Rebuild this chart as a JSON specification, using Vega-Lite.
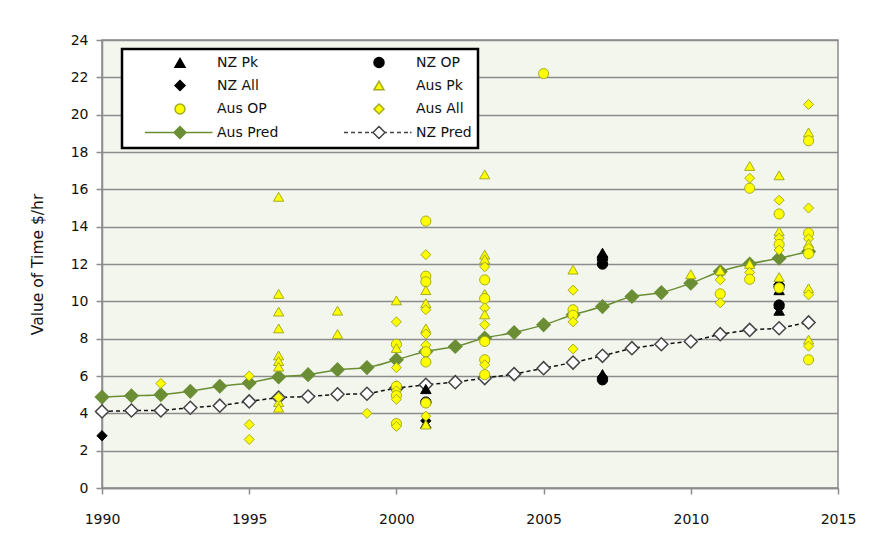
{
  "$schema": "https://vega.github.io/schema/vega-lite/v6.json",
  "width": 736,
  "height": 448,
  "autosize": {"type": "none"},
  "padding": {"left": 102, "top": 40, "right": 32, "bottom": 53},
  "background": "white",
  "config": {
    "view": {"fill": "#f3f6ed", "stroke": "#8c8c8c", "strokeWidth": 1.5},
    "font": "DejaVu Sans",
    "axis": {
      "labelFont": "DejaVu Sans", "labelFontSize": 14, "labelColor": "#111111",
      "titleFont": "DejaVu Sans", "titleFontSize": 15.5, "titleFontWeight": "normal", "titleColor": "#111111",
      "domainColor": "#8c8c8c", "tickColor": "#8c8c8c", "gridColor": "#8c8c8c",
      "domainWidth": 1.5, "tickWidth": 1.5, "gridWidth": 1.5, "tickSize": 6
    },
    "legend": {
      "orient": "none", "legendX": 20, "legendY": 9, "columns": 2, "direction": "horizontal", "title": null,
      "fillColor": "white", "strokeColor": "#000000", "strokeWidth": 2.5, "padding": 6,
      "labelFont": "DejaVu Sans", "labelFontSize": 14, "labelColor": "#111111",
      "labelOffset": 30, "symbolOffset": 45, "symbolSize": 100, "symbolStrokeWidth": 1.5,
      "rowPadding": 5.5, "columnPadding": 48, "gridAlign": "all"
    }
  },
  "datasets": {
    "obs": [
      {"year": 1990, "value": 2.8, "series": "NZ All"},
      {"year": 2001, "value": 5.3, "series": "NZ Pk"},
      {"year": 2001, "value": 3.45, "series": "NZ Pk"},
      {"year": 2001, "value": 4.6, "series": "NZ OP"},
      {"year": 2001, "value": 3.6, "series": "NZ All"},
      {"year": 2007, "value": 12.6, "series": "NZ Pk"},
      {"year": 2007, "value": 12.3, "series": "NZ OP"},
      {"year": 2007, "value": 12.0, "series": "NZ OP"},
      {"year": 2007, "value": 12.2, "series": "NZ All"},
      {"year": 2007, "value": 6.1, "series": "NZ Pk"},
      {"year": 2007, "value": 5.8, "series": "NZ OP"},
      {"year": 2007, "value": 5.95, "series": "NZ All"},
      {"year": 2013, "value": 10.6, "series": "NZ Pk"},
      {"year": 2013, "value": 10.8, "series": "NZ OP"},
      {"year": 2013, "value": 10.9, "series": "NZ All"},
      {"year": 2013, "value": 9.5, "series": "NZ Pk"},
      {"year": 2013, "value": 9.8, "series": "NZ OP"},
      {"year": 2013, "value": 9.65, "series": "NZ All"},
      {"year": 1992, "value": 5.6, "series": "Aus All"},
      {"year": 1995, "value": 6.0, "series": "Aus All"},
      {"year": 1995, "value": 3.4, "series": "Aus All"},
      {"year": 1995, "value": 2.6, "series": "Aus All"},
      {"year": 1996, "value": 15.6, "series": "Aus Pk"},
      {"year": 1996, "value": 10.4, "series": "Aus Pk"},
      {"year": 1996, "value": 9.45, "series": "Aus Pk"},
      {"year": 1996, "value": 8.55, "series": "Aus Pk"},
      {"year": 1996, "value": 7.1, "series": "Aus Pk"},
      {"year": 1996, "value": 6.8, "series": "Aus Pk"},
      {"year": 1996, "value": 6.5, "series": "Aus Pk"},
      {"year": 1996, "value": 4.6, "series": "Aus Pk"},
      {"year": 1996, "value": 4.3, "series": "Aus Pk"},
      {"year": 1996, "value": 4.85, "series": "Aus All"},
      {"year": 1998, "value": 9.5, "series": "Aus Pk"},
      {"year": 1998, "value": 8.25, "series": "Aus Pk"},
      {"year": 1999, "value": 4.0, "series": "Aus All"},
      {"year": 2000, "value": 10.05, "series": "Aus Pk"},
      {"year": 2000, "value": 8.9, "series": "Aus All"},
      {"year": 2000, "value": 7.7, "series": "Aus OP"},
      {"year": 2000, "value": 7.5, "series": "Aus Pk"},
      {"year": 2000, "value": 6.45, "series": "Aus All"},
      {"year": 2000, "value": 5.45, "series": "Aus OP"},
      {"year": 2000, "value": 5.2, "series": "Aus All"},
      {"year": 2000, "value": 4.95, "series": "Aus OP"},
      {"year": 2000, "value": 4.75, "series": "Aus All"},
      {"year": 2000, "value": 3.45, "series": "Aus OP"},
      {"year": 2000, "value": 3.3, "series": "Aus All"},
      {"year": 2001, "value": 14.3, "series": "Aus OP"},
      {"year": 2001, "value": 12.5, "series": "Aus All"},
      {"year": 2001, "value": 11.35, "series": "Aus OP"},
      {"year": 2001, "value": 11.05, "series": "Aus OP"},
      {"year": 2001, "value": 10.6, "series": "Aus Pk"},
      {"year": 2001, "value": 9.9, "series": "Aus Pk"},
      {"year": 2001, "value": 9.55, "series": "Aus All"},
      {"year": 2001, "value": 8.55, "series": "Aus Pk"},
      {"year": 2001, "value": 8.25, "series": "Aus All"},
      {"year": 2001, "value": 7.65, "series": "Aus All"},
      {"year": 2001, "value": 7.3, "series": "Aus OP"},
      {"year": 2001, "value": 6.75, "series": "Aus OP"},
      {"year": 2001, "value": 4.55, "series": "Aus OP"},
      {"year": 2001, "value": 3.85, "series": "Aus All"},
      {"year": 2001, "value": 3.4, "series": "Aus Pk"},
      {"year": 2003, "value": 16.8, "series": "Aus Pk"},
      {"year": 2003, "value": 12.5, "series": "Aus Pk"},
      {"year": 2003, "value": 12.25, "series": "Aus Pk"},
      {"year": 2003, "value": 11.85, "series": "Aus All"},
      {"year": 2003, "value": 11.15, "series": "Aus OP"},
      {"year": 2003, "value": 10.4, "series": "Aus Pk"},
      {"year": 2003, "value": 10.15, "series": "Aus OP"},
      {"year": 2003, "value": 9.65, "series": "Aus All"},
      {"year": 2003, "value": 9.3, "series": "Aus Pk"},
      {"year": 2003, "value": 8.75, "series": "Aus All"},
      {"year": 2003, "value": 7.85, "series": "Aus OP"},
      {"year": 2003, "value": 6.87, "series": "Aus OP"},
      {"year": 2003, "value": 6.6, "series": "Aus All"},
      {"year": 2003, "value": 6.07, "series": "Aus OP"},
      {"year": 2005, "value": 22.2, "series": "Aus OP"},
      {"year": 2006, "value": 11.7, "series": "Aus Pk"},
      {"year": 2006, "value": 10.6, "series": "Aus All"},
      {"year": 2006, "value": 9.55, "series": "Aus OP"},
      {"year": 2006, "value": 9.25, "series": "Aus OP"},
      {"year": 2006, "value": 8.9, "series": "Aus All"},
      {"year": 2006, "value": 7.45, "series": "Aus All"},
      {"year": 2010, "value": 11.45, "series": "Aus Pk"},
      {"year": 2011, "value": 11.65, "series": "Aus Pk"},
      {"year": 2011, "value": 11.15, "series": "Aus All"},
      {"year": 2011, "value": 10.4, "series": "Aus OP"},
      {"year": 2011, "value": 9.92, "series": "Aus All"},
      {"year": 2012, "value": 17.25, "series": "Aus Pk"},
      {"year": 2012, "value": 16.6, "series": "Aus All"},
      {"year": 2012, "value": 16.06, "series": "Aus OP"},
      {"year": 2012, "value": 12.0, "series": "Aus Pk"},
      {"year": 2012, "value": 11.55, "series": "Aus All"},
      {"year": 2012, "value": 11.18, "series": "Aus OP"},
      {"year": 2013, "value": 16.75, "series": "Aus Pk"},
      {"year": 2013, "value": 15.42, "series": "Aus All"},
      {"year": 2013, "value": 14.68, "series": "Aus OP"},
      {"year": 2013, "value": 13.75, "series": "Aus Pk"},
      {"year": 2013, "value": 13.38, "series": "Aus All"},
      {"year": 2013, "value": 13.05, "series": "Aus OP"},
      {"year": 2013, "value": 12.75, "series": "Aus All"},
      {"year": 2013, "value": 11.3, "series": "Aus Pk"},
      {"year": 2013, "value": 10.72, "series": "Aus OP"},
      {"year": 2014, "value": 20.55, "series": "Aus All"},
      {"year": 2014, "value": 19.05, "series": "Aus Pk"},
      {"year": 2014, "value": 18.6, "series": "Aus OP"},
      {"year": 2014, "value": 15.0, "series": "Aus All"},
      {"year": 2014, "value": 13.65, "series": "Aus OP"},
      {"year": 2014, "value": 13.35, "series": "Aus All"},
      {"year": 2014, "value": 13.1, "series": "Aus Pk"},
      {"year": 2014, "value": 12.85, "series": "Aus All"},
      {"year": 2014, "value": 12.55, "series": "Aus OP"},
      {"year": 2014, "value": 10.7, "series": "Aus Pk"},
      {"year": 2014, "value": 10.35, "series": "Aus All"},
      {"year": 2014, "value": 7.95, "series": "Aus Pk"},
      {"year": 2014, "value": 7.6, "series": "Aus All"},
      {"year": 2014, "value": 6.87, "series": "Aus OP"}
    ],
    "pred": [
      {"year": 1990, "value": 4.87, "series": "Aus Pred"},
      {"year": 1991, "value": 4.94, "series": "Aus Pred"},
      {"year": 1992, "value": 5.0, "series": "Aus Pred"},
      {"year": 1993, "value": 5.18, "series": "Aus Pred"},
      {"year": 1994, "value": 5.45, "series": "Aus Pred"},
      {"year": 1995, "value": 5.63, "series": "Aus Pred"},
      {"year": 1996, "value": 5.95, "series": "Aus Pred"},
      {"year": 1997, "value": 6.07, "series": "Aus Pred"},
      {"year": 1998, "value": 6.34, "series": "Aus Pred"},
      {"year": 1999, "value": 6.45, "series": "Aus Pred"},
      {"year": 2000, "value": 6.87, "series": "Aus Pred"},
      {"year": 2001, "value": 7.31, "series": "Aus Pred"},
      {"year": 2002, "value": 7.58, "series": "Aus Pred"},
      {"year": 2003, "value": 8.03, "series": "Aus Pred"},
      {"year": 2004, "value": 8.33, "series": "Aus Pred"},
      {"year": 2005, "value": 8.74, "series": "Aus Pred"},
      {"year": 2006, "value": 9.28, "series": "Aus Pred"},
      {"year": 2007, "value": 9.72, "series": "Aus Pred"},
      {"year": 2008, "value": 10.26, "series": "Aus Pred"},
      {"year": 2009, "value": 10.47, "series": "Aus Pred"},
      {"year": 2010, "value": 10.97, "series": "Aus Pred"},
      {"year": 2011, "value": 11.6, "series": "Aus Pred"},
      {"year": 2012, "value": 12.0, "series": "Aus Pred"},
      {"year": 2013, "value": 12.31, "series": "Aus Pred"},
      {"year": 2014, "value": 12.67, "series": "Aus Pred"},
      {"year": 1990, "value": 4.1, "series": "NZ Pred"},
      {"year": 1991, "value": 4.15, "series": "NZ Pred"},
      {"year": 1992, "value": 4.15, "series": "NZ Pred"},
      {"year": 1993, "value": 4.3, "series": "NZ Pred"},
      {"year": 1994, "value": 4.41, "series": "NZ Pred"},
      {"year": 1995, "value": 4.64, "series": "NZ Pred"},
      {"year": 1996, "value": 4.85, "series": "NZ Pred"},
      {"year": 1997, "value": 4.9, "series": "NZ Pred"},
      {"year": 1998, "value": 5.02, "series": "NZ Pred"},
      {"year": 1999, "value": 5.05, "series": "NZ Pred"},
      {"year": 2000, "value": 5.35, "series": "NZ Pred"},
      {"year": 2001, "value": 5.53, "series": "NZ Pred"},
      {"year": 2002, "value": 5.67, "series": "NZ Pred"},
      {"year": 2003, "value": 5.89, "series": "NZ Pred"},
      {"year": 2004, "value": 6.1, "series": "NZ Pred"},
      {"year": 2005, "value": 6.42, "series": "NZ Pred"},
      {"year": 2006, "value": 6.72, "series": "NZ Pred"},
      {"year": 2007, "value": 7.08, "series": "NZ Pred"},
      {"year": 2008, "value": 7.49, "series": "NZ Pred"},
      {"year": 2009, "value": 7.7, "series": "NZ Pred"},
      {"year": 2010, "value": 7.85, "series": "NZ Pred"},
      {"year": 2011, "value": 8.24, "series": "NZ Pred"},
      {"year": 2012, "value": 8.47, "series": "NZ Pred"},
      {"year": 2013, "value": 8.56, "series": "NZ Pred"},
      {"year": 2014, "value": 8.87, "series": "NZ Pred"}
    ]
  },
  "encoding": {
    "x": {
      "field": "year", "type": "quantitative",
      "scale": {"domain": [1990, 2015], "nice": false, "zero": false},
      "axis": {"title": null, "values": [1990, 1995, 2000, 2005, 2010, 2015], "format": "d", "grid": false, "labelPadding": 18, "labelFlush": false}
    },
    "y": {
      "field": "value", "type": "quantitative",
      "scale": {"domain": [0, 24], "nice": false},
      "axis": {"title": "Value of Time $/hr", "values": [0, 2, 4, 6, 8, 10, 12, 14, 16, 18, 20, 22, 24], "labelPadding": 8, "titlePadding": 25}
    }
  },
  "layer": [
    {
      "data": {"name": "pred"},
      "transform": [{"filter": "datum.series === 'Aus Pred'"}],
      "mark": {"type": "line", "color": "#6b8e35", "strokeWidth": 1.5, "interpolate": "monotone"}
    },
    {
      "data": {"name": "pred"},
      "transform": [{"filter": "datum.series === 'NZ Pred'"}],
      "mark": {"type": "line", "color": "#111111", "strokeWidth": 1.5, "strokeDash": [4, 3]}
    },
    {
      "data": {"name": "pred"},
      "mark": {"type": "point", "shape": "diamond", "size": 170, "opacity": 1, "strokeWidth": 1.5},
      "encoding": {
        "fill": {
          "field": "series", "type": "nominal",
          "scale": {
            "domain": ["NZ Pk", "NZ OP", "NZ All", "Aus Pk", "Aus OP", "Aus All", "Aus Pred", "NZ Pred"],
            "range": ["#000000", "#000000", "#000000", "#ffff00", "#ffff00", "#ffff00", "#6b8e35", "#ffffff"]
          }
        },
        "stroke": {
          "field": "series", "type": "nominal",
          "scale": {
            "domain": ["NZ Pk", "NZ OP", "NZ All", "Aus Pk", "Aus OP", "Aus All", "Aus Pred", "NZ Pred"],
            "range": ["#000000", "#000000", "#000000", "#a3ac20", "#a3ac20", "#a3ac20", "#6b8e35", "#444444"]
          }
        }
      }
    },
    {
      "data": {"name": "obs"},
      "mark": {"type": "point", "opacity": 1, "strokeWidth": 1},
      "encoding": {
        "shape": {
          "field": "series", "type": "nominal",
          "scale": {
            "domain": ["NZ Pk", "NZ OP", "NZ All", "Aus Pk", "Aus OP", "Aus All", "Aus Pred", "NZ Pred"],
            "range": ["triangle-up", "circle", "diamond", "triangle-up", "circle", "diamond",
              "M-7,0H-1.2M1.2,0H6.5M0,-1.2L1.2,0L0,1.2L-1.2,0Z",
              "M-7,0H-6.2M-5.6,0H-4.8M-4.2,0H-3.4M-2.8,0H-2M-1.6,0H-1.2M1.2,0H1.6M2.2,0H3M3.6,0H4.4M5,0H5.8M6.2,0H6.5M0,-1.2L1.2,0L0,1.2L-1.2,0Z"]
          }
        },
        "fill": {
          "field": "series", "type": "nominal",
          "scale": {
            "domain": ["NZ Pk", "NZ OP", "NZ All", "Aus Pk", "Aus OP", "Aus All", "Aus Pred", "NZ Pred"],
            "range": ["#000000", "#000000", "#000000", "#ffff00", "#ffff00", "#ffff00", "#6b8e35", "#ffffff"]
          }
        },
        "stroke": {
          "field": "series", "type": "nominal",
          "scale": {
            "domain": ["NZ Pk", "NZ OP", "NZ All", "Aus Pk", "Aus OP", "Aus All", "Aus Pred", "NZ Pred"],
            "range": ["#000000", "#000000", "#000000", "#a3ac20", "#a3ac20", "#a3ac20", "#6b8e35", "#444444"]
          }
        },
        "size": {
          "field": "series", "type": "nominal", "legend": null,
          "scale": {
            "domain": ["NZ Pk", "NZ OP", "NZ All", "Aus Pk", "Aus OP", "Aus All"],
            "range": [110, 100, 90, 90, 80, 64]
          }
        }
      }
    }
  ]
}
